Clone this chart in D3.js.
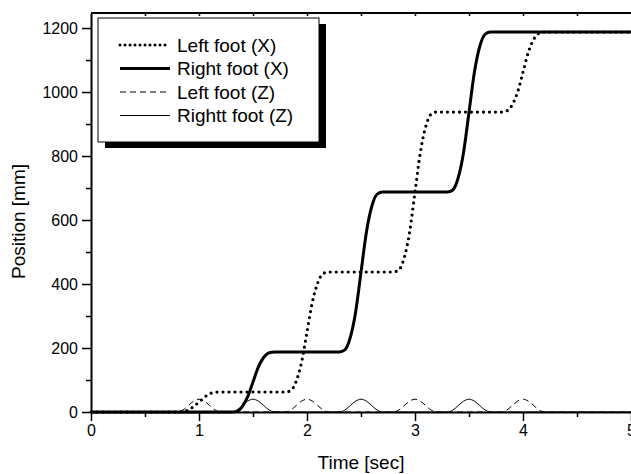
<!DOCTYPE html>
<html>
<head>
    <title>Foot trajectories</title>
    <script src="https://d3js.org/d3.v7.min.js"></script>
    <style>
        body { margin: 0; background: #fff; }
        text { font-family: "Liberation Sans", Arial, sans-serif; fill: #000; }
    </style>
</head>
<body>
    <div id="chart"></div>
    <script>

        // data: [time (sec), position (mm)]
        const leftFootX = [
            [0, 0], [0.8, 0], [0.85, 1], [0.9, 6], [0.95, 17], [1.0, 31], [1.05, 46], [1.1, 57], [1.15, 62], [1.2, 62.5],
            [1.8, 62.5], [1.85, 67], [1.9, 96], [1.95, 156], [2.0, 250], [2.05, 344], [2.1, 404], [2.15, 433], [2.2, 437.5],
            [2.8, 437.5], [2.85, 444], [2.9, 482], [2.95, 562], [3.0, 687], [3.05, 812], [3.1, 893], [3.15, 931], [3.2, 937.5],
            [3.8, 937.5], [3.85, 941], [3.9, 960], [3.95, 1000], [4.0, 1062], [4.05, 1125], [4.1, 1165], [4.15, 1184], [4.2, 1187.5],
            [5, 1187.5]
        ];
        const rightFootX = [
            [0, 0], [1.3, 0], [1.35, 2], [1.4, 17], [1.45, 47], [1.5, 94], [1.55, 141], [1.6, 171], [1.65, 185], [1.7, 187.5],
            [2.3, 187.5], [2.35, 194], [2.4, 232], [2.45, 312], [2.5, 437], [2.55, 562], [2.6, 643], [2.65, 681], [2.7, 687.5],
            [3.3, 687.5], [3.35, 694], [3.4, 732], [3.45, 812], [3.5, 937], [3.55, 1062], [3.6, 1143], [3.65, 1181], [3.7, 1187.5],
            [5, 1187.5]
        ];
        const leftFootZ = [
            [0, 0], [0.8, 0], [0.85, 6], [0.9, 20], [0.95, 34], [1.0, 40], [1.05, 34], [1.1, 20], [1.15, 6], [1.2, 0],
            [1.8, 0], [1.85, 6], [1.9, 20], [1.95, 34], [2.0, 40], [2.05, 34], [2.1, 20], [2.15, 6], [2.2, 0],
            [2.8, 0], [2.85, 6], [2.9, 20], [2.95, 34], [3.0, 40], [3.05, 34], [3.1, 20], [3.15, 6], [3.2, 0],
            [3.8, 0], [3.85, 6], [3.9, 20], [3.95, 34], [4.0, 40], [4.05, 34], [4.1, 20], [4.15, 6], [4.2, 0],
            [5, 0]
        ];
        const rightFootZ = [
            [0, 0], [1.3, 0], [1.35, 6], [1.4, 20], [1.45, 34], [1.5, 40], [1.55, 34], [1.6, 20], [1.65, 6], [1.7, 0],
            [2.3, 0], [2.35, 6], [2.4, 20], [2.45, 34], [2.5, 40], [2.55, 34], [2.6, 20], [2.65, 6], [2.7, 0],
            [3.3, 0], [3.35, 6], [3.4, 20], [3.45, 34], [3.5, 40], [3.55, 34], [3.6, 20], [3.65, 6], [3.7, 0],
            [5, 0]
        ];

        const seriesNames = ["Left foot (X)", "Right foot (X)", "Left foot (Z)", "Rightt foot (Z)"];
        const xTicks = [0, 1, 2, 3, 4, 5];
        const yTicks = [0, 200, 400, 600, 800, 1000, 1200];

        // styles for each series
        const styles = [
            { width: 3.2, dash: "0,6", cap: "round" },
            { width: 3, dash: null, cap: "butt" },
            { width: 1, dash: "6,4", cap: "butt" },
            { width: 1, dash: null, cap: "butt" }
        ];
        const series = [leftFootX, rightFootX, leftFootZ, rightFootZ];

        // margins
        const margin = { top: 13, right: 0, bottom: 62, left: 91 };
        const width = 631 - margin.left - margin.right;
        const height = 474 - margin.top - margin.bottom;

        const svg = d3.select("#chart")
            .append("svg")
                .attr("width", 631)
                .attr("height", 474)
            .append("g")
                .attr("transform", `translate(${margin.left},${margin.top})`);

        const x = d3.scaleLinear().domain([0, 5]).range([0, width]);
        const y = d3.scaleLinear().domain([0, 1247]).range([height, 0]);

        // minor ticks
        svg.append("g")
            .attr("transform", `translate(0,${height})`)
            .call(d3.axisBottom(x).tickValues(d3.range(0.5, 5, 1)).tickSize(5).tickFormat(""))
            .call(g => g.select(".domain").remove())
            .call(g => g.selectAll("line").attr("stroke-width", 1.5));
        svg.append("g")
            .call(d3.axisLeft(y).tickValues(d3.range(100, 1247, 200)).tickSize(5).tickFormat(""))
            .call(g => g.select(".domain").remove())
            .call(g => g.selectAll("line").attr("stroke-width", 1.5));

        // top axis ticks pointing inside
        svg.append("g")
            .call(d3.axisBottom(x).tickValues(d3.range(0.5, 5, 0.5)).tickSize(3).tickFormat(""))
            .call(g => g.select(".domain").remove())
            .call(g => g.selectAll("line").attr("stroke-width", 1.5));

        // x axis
        svg.append("g")
            .attr("transform", `translate(0,${height})`)
            .call(d3.axisBottom(x).tickValues(xTicks).tickFormat(d3.format("d")).tickSize(9).tickPadding(4).tickSizeOuter(0))
            .call(g => g.select(".domain").attr("stroke-width", 2))
            .call(g => g.selectAll("line").attr("stroke-width", 1.5))
            .call(g => g.selectAll("text").attr("font-size", 16));

        // y axis
        svg.append("g")
            .call(d3.axisLeft(y).tickValues(yTicks).tickFormat(d3.format("d")).tickSize(9).tickPadding(4).tickSizeOuter(0))
            .call(g => g.select(".domain").attr("stroke-width", 2))
            .call(g => g.selectAll("line").attr("stroke-width", 1.5))
            .call(g => g.selectAll("text").attr("font-size", 16));

        // top frame line
        svg.append("line")
            .attr("x1", 0).attr("x2", width)
            .attr("y1", 0).attr("y2", 0)
            .attr("stroke", "#000")
            .attr("stroke-width", 2);

        // lines
        const line = d3.line()
            .x(d => x(d[0]))
            .y(d => y(d[1]))
            .curve(d3.curveMonotoneX);

        series.forEach((s, i) => {
            svg.append("path")
                .datum(s)
                .attr("fill", "none")
                .attr("stroke", "#000")
                .attr("stroke-width", styles[i].width)
                .attr("stroke-dasharray", styles[i].dash)
                .attr("stroke-linecap", styles[i].cap)
                .attr("d", line);
        });

        // axis titles
        svg.append("text")
            .attr("x", width / 2)
            .attr("y", height + 57)
            .attr("text-anchor", "middle")
            .attr("font-size", 19)
            .text("Time [sec]");

        svg.append("text")
            .attr("transform", `translate(${-66},${(height / 2) + 9}) rotate(-90)`)
            .attr("text-anchor", "middle")
            .attr("font-size", 19)
            .text("Position [mm]");

        // legend with shadow
        const legend = svg.append("g").attr("transform", "translate(7,5)");
        legend.append("rect")
            .attr("x", 7).attr("y", 6)
            .attr("width", 221).attr("height", 124)
            .attr("fill", "#000");
        legend.append("rect")
            .attr("x", 0).attr("y", 0)
            .attr("width", 221).attr("height", 124)
            .attr("fill", "#fff")
            .attr("stroke", "#000")
            .attr("stroke-width", 1);

        seriesNames.forEach((name, i) => {
            const ry = 27 + i * 23.5;
            legend.append("line")
                .attr("x1", 22).attr("x2", 72)
                .attr("y1", ry).attr("y2", ry)
                .attr("stroke", "#000")
                .attr("stroke-width", i === 0 ? 3 : styles[i].width)
                .attr("stroke-dasharray", i === 0 ? "0,5" : styles[i].dash)
                .attr("stroke-linecap", styles[i].cap);
            legend.append("text")
                .attr("x", 79)
                .attr("y", ry)
                .attr("dy", "0.35em")
                .attr("font-size", 19)
                .text(name);
        });

    </script>
</body>
</html>
